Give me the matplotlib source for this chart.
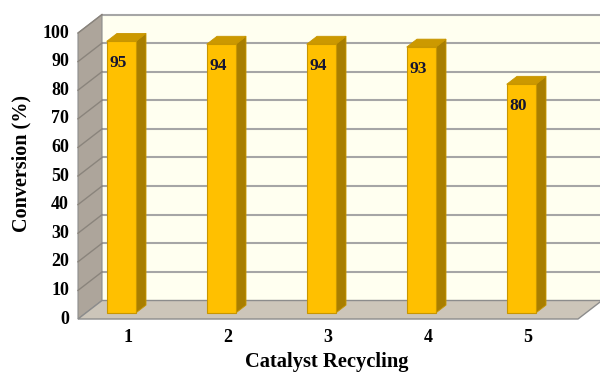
import matplotlib
matplotlib.use("Agg")
import matplotlib.pyplot as plt
from matplotlib.patches import Polygon

# Data
cycles = ["1", "2", "3", "4", "5"]
conversion = [95, 94, 94, 93, 80]
y_ticks = [0, 10, 20, 30, 40, 50, 60, 70, 80, 90, 100]
x_title = "Catalyst Recycling"
y_title = "Conversion (%)"

# Oblique 3-D look: depth shift of the back plane in data units
DX, DY = 0.24, 6.47
BAR_LEFT, BAR_W = -0.29, 0.29        # bar front face relative to category centre
D0, D1 = 0.32, 0.75                  # bar depth span (fraction of floor depth)
YMAX = 100

plt.rcParams["font.family"] = ["Liberation Serif", "DejaVu Serif"]

fig = plt.figure(figsize=(6.0, 3.73), dpi=100)
ax = fig.add_axes([0, 0, 1, 1])
ax.set_xlim(-0.28, 5.72)
ax.set_ylim(-18.88, 111.54)
ax.axis("off")

n = len(cycles)
x0, x1 = 0.5, n + 0.5

wall_col = "#FFFFF0"
grid_col = "#A6A6A6"
side_col = "#ADA59B"
floor_col = "#CCC5B9"
edge_col = "#8C8C8C"

# back wall
ax.add_patch(Polygon([(x0 + DX, DY), (x1 + DX + 0.5, DY), (x1 + DX + 0.5, YMAX + DY),
                      (x0 + DX, YMAX + DY)], closed=True, facecolor=wall_col,
                     edgecolor="none", zorder=1))
# gridlines on back wall
for v in y_ticks[1:]:
    ax.plot([x0 + DX, x1 + DX + 0.5], [v + DY, v + DY], color=grid_col, lw=1.5, zorder=2)

# side wall
ax.add_patch(Polygon([(x0, 0), (x0, YMAX), (x0 + DX, YMAX + DY), (x0 + DX, DY)],
                     closed=True, facecolor=side_col, edgecolor=edge_col, lw=0.8, zorder=3))
for v in y_ticks[1:]:
    ax.plot([x0, x0 + DX], [v, v + DY], color="#8A847C", lw=1.0, zorder=3)

# floor
ax.add_patch(Polygon([(x0, 0), (x1, 0), (x1 + DX, DY), (x0 + DX, DY)], closed=True,
                     facecolor=floor_col, edgecolor=edge_col, lw=1.0, zorder=3))

# bars
front_col = "#FFC000"
top_col = "#CC9900"
right_col = "#A87E00"
bar_edge = "#C89600"
for i, val in enumerate(conversion, start=1):
    l = i + BAR_LEFT + D0 * DX
    r = l + BAR_W
    b = D0 * DY
    t = val + D0 * DY
    ddx = (D1 - D0) * DX
    ddy = (D1 - D0) * DY
    ax.add_patch(Polygon([(r, b), (r + ddx, b + ddy), (r + ddx, t + ddy), (r, t)],
                         closed=True, facecolor=right_col, edgecolor=bar_edge, lw=0.6, zorder=4))
    ax.add_patch(Polygon([(l, t), (r, t), (r + ddx, t + ddy), (l + ddx, t + ddy)],
                         closed=True, facecolor=top_col, edgecolor=bar_edge, lw=0.6, zorder=4))
    ax.add_patch(Polygon([(l, b), (r, b), (r, t), (l, t)], closed=True,
                         facecolor=front_col, edgecolor=bar_edge, lw=0.8, zorder=5))
    ax.text((l + r) / 2 - 0.03, val - 5.5, f"{val}", ha="center", va="center",
            fontsize=12.5, fontweight="bold", color="#141432", zorder=6)

# tick labels
for v in y_ticks:
    ax.text(x0 - 0.09, v, f"{v}", ha="right", va="center", fontsize=13,
            fontweight="bold", color="black")
for i, lab in enumerate(cycles, start=1):
    ax.text(i, -6.3, lab, ha="center", va="center", fontsize=13,
            fontweight="bold", color="black")

ax.text(2.99, -15.0, x_title, ha="center", va="center", fontsize=14.8, fontweight="bold")
ax.text(-0.07, 54.5, y_title, ha="center", va="center", rotation=90, fontsize=14.5,
        fontweight="bold")

fig.savefig("out.png", dpi=100, facecolor="white")
